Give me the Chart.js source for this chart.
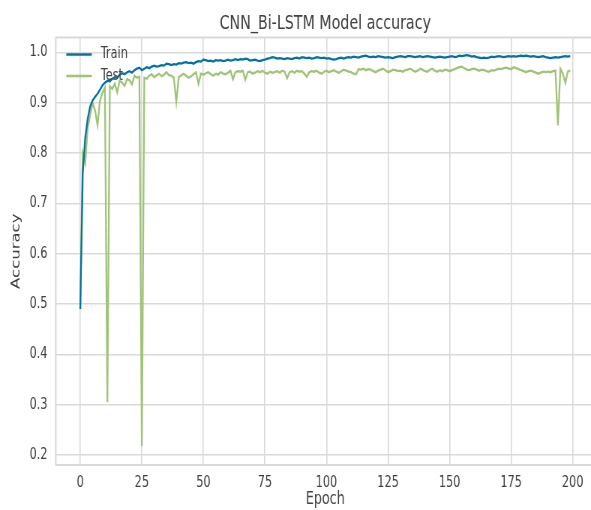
<!DOCTYPE html>
<html>
<head>
<meta charset="utf-8">
<script src="https://cdn.jsdelivr.net/npm/chart.js@4/dist/chart.umd.min.js"></script>
<style>
  html, body { margin: 0; padding: 0; background: #ffffff; overflow: hidden; }
  #wrap { width: 591px; height: 510px; overflow: hidden; position: relative; }
  #acc { position: absolute; left: 0; top: 0; transform: scaleX(0.75); transform-origin: 0 0; background: #ffffff; }
</style>
</head>
<body>
<div id="wrap"><canvas id="acc" width="800" height="510"></canvas></div>
<script>
// Training history of the CNN_Bi-LSTM model, one value per epoch
const trainAcc = [
  0.490, 0.760, 0.830, 0.868, 0.893, 0.905, 0.912, 0.918, 0.926, 0.935,
  0.940, 0.944, 0.943, 0.948, 0.951, 0.950, 0.956, 0.959, 0.957, 0.961,
  0.963, 0.960, 0.965, 0.968, 0.970, 0.965, 0.968, 0.971, 0.969, 0.972,
  0.974, 0.972, 0.973, 0.975, 0.974, 0.978, 0.977, 0.975, 0.977, 0.976,
  0.979, 0.978, 0.980, 0.981, 0.979, 0.980, 0.978, 0.981, 0.983, 0.982,
  0.986, 0.985, 0.983, 0.984, 0.982, 0.985, 0.984, 0.985, 0.983, 0.984,
  0.986, 0.984, 0.985, 0.987, 0.985, 0.987, 0.986, 0.988, 0.987, 0.984,
  0.985, 0.986, 0.984, 0.983, 0.985, 0.986, 0.988, 0.989, 0.991, 0.990,
  0.988, 0.989, 0.988, 0.987, 0.989, 0.988, 0.987, 0.989, 0.990, 0.988,
  0.991, 0.990, 0.989, 0.990, 0.988, 0.989, 0.991, 0.990, 0.989, 0.990,
  0.988, 0.989, 0.987, 0.986, 0.987, 0.989, 0.990, 0.988, 0.990, 0.991,
  0.990, 0.992, 0.991, 0.990, 0.992, 0.993, 0.994, 0.992, 0.991, 0.992,
  0.991, 0.993, 0.992, 0.991, 0.990, 0.991, 0.990, 0.989, 0.991, 0.992,
  0.993, 0.992, 0.991, 0.993, 0.993, 0.992, 0.991, 0.992, 0.993, 0.991,
  0.992, 0.993, 0.992, 0.991, 0.990, 0.991, 0.992, 0.991, 0.990, 0.991,
  0.992, 0.993, 0.991, 0.992, 0.994, 0.993, 0.994, 0.995, 0.994, 0.992,
  0.993, 0.991, 0.990, 0.989, 0.990, 0.989, 0.990, 0.992, 0.991, 0.992,
  0.993, 0.992, 0.991, 0.992, 0.993, 0.992, 0.993, 0.992, 0.993, 0.994,
  0.993, 0.994, 0.993, 0.992, 0.993, 0.992, 0.991, 0.992, 0.993, 0.991,
  0.990, 0.989, 0.990, 0.991, 0.990, 0.991, 0.992, 0.993, 0.992, 0.993
];

const testAcc = [
  0.490, 0.800, 0.780, 0.850, 0.875, 0.900, 0.885, 0.856, 0.905, 0.920,
  0.930, 0.305, 0.933, 0.928, 0.938, 0.921, 0.944, 0.940, 0.934, 0.947,
  0.945, 0.937, 0.954, 0.950, 0.952, 0.218, 0.950, 0.948, 0.954, 0.957,
  0.951, 0.955, 0.958, 0.953, 0.956, 0.961, 0.955, 0.954, 0.950, 0.902,
  0.951, 0.955, 0.958, 0.954, 0.950, 0.953, 0.957, 0.961, 0.938, 0.958,
  0.956, 0.959, 0.961, 0.957, 0.954, 0.958, 0.956, 0.961, 0.958, 0.957,
  0.960, 0.964, 0.947, 0.961, 0.963, 0.962, 0.964, 0.946, 0.961, 0.962,
  0.958, 0.960, 0.963, 0.961, 0.964, 0.960, 0.958, 0.962, 0.960, 0.961,
  0.963, 0.960, 0.964, 0.962, 0.949, 0.961, 0.963, 0.960, 0.964, 0.962,
  0.963, 0.958, 0.952, 0.961, 0.963, 0.962, 0.964, 0.960, 0.958, 0.962,
  0.964, 0.961, 0.963, 0.965, 0.962, 0.960, 0.963, 0.966, 0.964, 0.962,
  0.961, 0.958, 0.957, 0.967, 0.966, 0.968, 0.965, 0.967, 0.966, 0.963,
  0.961, 0.964, 0.966, 0.968, 0.965, 0.961, 0.963, 0.966, 0.965, 0.963,
  0.964, 0.962, 0.965, 0.966, 0.968, 0.965, 0.962, 0.964, 0.968, 0.966,
  0.963, 0.962, 0.966, 0.968, 0.964, 0.962, 0.965, 0.963, 0.966, 0.965,
  0.963, 0.965, 0.967, 0.969, 0.971, 0.972, 0.969, 0.966, 0.965, 0.967,
  0.968, 0.966, 0.964, 0.966, 0.965, 0.963, 0.962, 0.965, 0.964, 0.966,
  0.968, 0.967, 0.969, 0.970, 0.968, 0.967, 0.971, 0.969, 0.967, 0.965,
  0.963, 0.961, 0.963, 0.964, 0.962, 0.960, 0.958, 0.960, 0.962, 0.961,
  0.962, 0.961, 0.963, 0.964, 0.855, 0.968, 0.958, 0.940, 0.962, 0.964
];

const seriesNames = ['Train', 'Test'];
const xTicks = [0, 25, 50, 75, 100, 125, 150, 175, 200];
const yTicks = [0.2, 0.3, 0.4, 0.5, 0.6, 0.7, 0.8, 0.9, 1.0];

const epochs = trainAcc.map((_, i) => i);

const GRID = '#d9d9d9';
const TEXT = '#404040';
const FONT = "'DejaVu Sans', sans-serif";

// Full frame around the plotting area (all four spines)
const framePlugin = {
  id: 'frame',
  beforeDatasetsDraw(chart) {
    const { ctx, chartArea: a } = chart;
    ctx.save();
    ctx.strokeStyle = GRID;
    ctx.lineWidth = 2;
    ctx.strokeRect(a.left, a.top, a.right - a.left, a.bottom - a.top);
    ctx.restore();
  }
};

// Frameless legend in the upper-left corner of the plot
const cornerLegend = {
  id: 'cornerLegend',
  afterDatasetsDraw(chart) {
    const { ctx, chartArea: a } = chart;
    ctx.save();
    ctx.font = "15px " + FONT;
    ctx.textBaseline = 'middle';
    ctx.textAlign = 'left';
    chart.data.datasets.forEach((ds, i) => {
      const y = a.top + 17 + i * 21.5;
      const x0 = a.left + 14;
      ctx.strokeStyle = ds.borderColor;
      ctx.lineWidth = 2.4;
      ctx.beginPath();
      ctx.moveTo(x0, y);
      ctx.lineTo(x0 + 34, y);
      ctx.stroke();
      ctx.fillStyle = TEXT;
      ctx.fillText(ds.label, x0 + 46, y);
    });
    ctx.restore();
  }
};

new Chart(document.getElementById('acc'), {
  type: 'line',
  data: {
    datasets: [
      {
        label: seriesNames[0],
        data: epochs.map(i => ({ x: i, y: trainAcc[i] })),
        borderColor: '#0272a2',
        borderWidth: 2.3,
        pointRadius: 0,
        tension: 0
      },
      {
        label: seriesNames[1],
        data: epochs.map(i => ({ x: i, y: testAcc[i] })),
        borderColor: '#9fc377',
        borderWidth: 2.3,
        pointRadius: 0,
        tension: 0
      }
    ]
  },
  options: {
    responsive: false,
    animation: false,
    events: [],
    layout: { padding: { left: 11.7, right: 7, top: 0, bottom: 0 } },
    plugins: {
      legend: { display: false },
      tooltip: { enabled: false },
      title: {
        display: true,
        text: 'CNN_Bi-LSTM Model accuracy',
        fullSize: false,
        color: TEXT,
        font: { family: FONT, size: 19, weight: 'normal', lineHeight: 1.2 },
        padding: { top: 12.6, bottom: 2.1 }
      }
    },
    scales: {
      x: {
        type: 'linear',
        min: -9.95,
        max: 208.95,
        afterBuildTicks: s => { s.ticks = xTicks.map(v => ({ value: v })); },
        afterFit: s => { s.height = 45; },
        grid: { color: GRID, lineWidth: 1.6, drawTicks: false },
        border: { display: false },
        ticks: {
          color: TEXT,
          padding: 9.5,
          maxRotation: 0,
          font: { family: FONT, size: 15 },
          callback: v => String(v)
        },
        title: {
          display: true,
          text: 'Epoch',
          color: TEXT,
          font: { family: FONT, size: 17 },
          padding: { top: 0, bottom: 0 }
        }
      },
      y: {
        type: 'linear',
        min: 0.18,
        max: 1.03,
        afterBuildTicks: s => { s.ticks = yTicks.map(v => ({ value: v })); },
        afterFit: s => { s.width = 62.7; },
        grid: { color: GRID, lineWidth: 1.6, drawTicks: false },
        border: { display: false },
        ticks: {
          color: TEXT,
          padding: 11,
          font: { family: FONT, size: 15 },
          callback: v => v.toFixed(1)
        },
        title: {
          display: true,
          text: 'Accuracy',
          color: TEXT,
          font: { family: FONT, size: 16.5 },
          padding: { top: 0, bottom: 0 }
        }
      }
    }
  },
  plugins: [framePlugin, cornerLegend]
});
</script>
</body>
</html>
